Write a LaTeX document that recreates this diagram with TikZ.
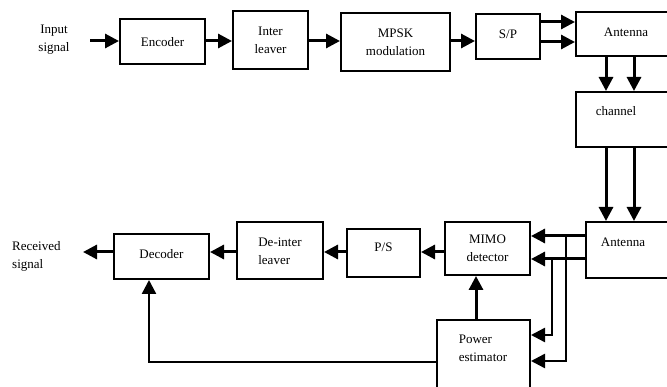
\documentclass[tikz,border=0pt]{standalone}
\usepackage{fontspec}
\setmainfont{Liberation Serif}
\usetikzlibrary{arrows.meta,calc}
\begin{document}
\begin{tikzpicture}[x=1pt,y=-1pt,
  box/.style={draw,line width=2pt,rectangle,inner sep=0pt,align=center,font=\fontsize{13}{18}\selectfont},
  txt/.style={inner sep=0pt,align=center,font=\fontsize{13}{18}\selectfont},
  arr/.style={line width=3pt,-{Triangle[length=14pt,width=14pt]}},
  lnarr/.style={line width=2.4pt,-{Triangle[length=14pt,width=14pt]}}]
\clip (0,0) rectangle (667,387);
\useasboundingbox (0,0) rectangle (667,387);
% top row
\node[txt] (inp) at (54,40) {Input\\signal};
\coordinate (instart) at (90,41);
\node[box,minimum width=85pt,minimum height=45pt] (enc) at (162.5,42) {Encoder};
\node[box,minimum width=75pt,minimum height=58pt] (il) at (270.5,40) {Inter\\leaver};
\node[box,minimum width=109pt,minimum height=58pt] (mpsk) at (395.5,42) {MPSK\\modulation};
\node[box,minimum width=64pt,minimum height=45pt] (sp) at (508,36.5) {};
\node[txt] at (508,34) {S/P};
\node[box,minimum width=100pt,minimum height=44pt] (ant1) at (626,34) {};
\node[txt] at (626,32) {Antenna};
\node[box,minimum width=100pt,minimum height=55pt] (ch) at (626,119.5) {};
\node[txt] at (616,111) {channel};
\node[box,minimum width=100pt,minimum height=56pt] (ant2) at (636,250) {};
\node[txt] at (623,242) {Antenna};
% bottom row
\node[box,minimum width=85pt,minimum height=53pt] (mimo) at (487.5,248.5) {MIMO\\detector};
\node[box,minimum width=73pt,minimum height=48pt] (ps) at (383.5,253) {};
\node[txt] at (383.5,247) {P/S};
\node[box,minimum width=86pt,minimum height=57pt] (deint) at (280,250.5) {};
\node[txt,align=left] at (280,251) {De-inter\\leaver};
\node[box,minimum width=95pt,minimum height=45pt] (dec) at (161.5,256.5) {};
\node[txt] at (161.5,254) {Decoder};
\node[txt,align=left,anchor=west] (rec) at (12,256) {Received\\signal};
\coordinate (outend) at (83,252);
\node[box,minimum width=93pt,minimum height=80pt] (pw) at (483.5,360) {};
\node[txt,align=left] at (483,348) {Power\\estimator};
% top arrows
\draw[arr] (instart) -- (instart -| enc.west);
\draw[arr] (instart -| enc.east) -- (instart -| il.west);
\draw[arr] (instart -| il.east) -- (instart -| mpsk.west);
\draw[arr] (instart -| mpsk.east) -- (instart -| sp.west);
\draw[arr] ($(sp.east)+(0,-14.5)$) -- ($(sp.east -| ant1.west)+(0,-14.5)$);
\draw[arr] ($(sp.east)+(0,5.5)$) -- ($(sp.east -| ant1.west)+(0,5.5)$);
\draw[arr] ($(ant1.south)+(-20,0)$) -- ($(ch.north)+(-20,0)$);
\draw[arr] ($(ant1.south)+(8,0)$) -- ($(ch.north)+(8,0)$);
\draw[arr] ($(ch.south)+(-20,0)$) -- ($(ch.south |- ant2.north)+(-20,0)$);
\draw[arr] ($(ch.south)+(8,0)$) -- ($(ch.south |- ant2.north)+(8,0)$);
% antenna to MIMO
\coordinate (a1) at ($(ant2.west)+(0,-14)$);
\coordinate (a2) at ($(ant2.west)+(0,9)$);
\draw[arr] (a1) -- (a1 -| mimo.east);
\draw[arr] (a2) -- (a2 -| mimo.east);
\coordinate (b1) at (566,236);
\coordinate (b2) at (552,259);
\draw[lnarr] (b1) -- (566,361) -- (pw.east |- 0,361);
\draw[lnarr] (b2) -- (552,335) -- (pw.east |- 0,335);
% bottom arrows
\draw[arr] ($(pw.north)+(-7.5,0)$) -- ($(mimo.south)+(-11.5,0)$);
\draw[arr] ($(mimo.west)+(0,3.5)$) -- ($(mimo.west -| ps.east)+(0,3.5)$);
\draw[arr] ($(ps.west)+(0,-1)$) -- ($(ps.west -| deint.east)+(0,-1)$);
\draw[arr] ($(deint.west)+(0,1.5)$) -- ($(deint.west -| dec.east)+(0,1.5)$);
\draw[arr] ($(dec.west)+(0,-4.5)$) -- (outend);
\draw[lnarr] (pw.west |- 0,362) -- (149,362) -- (dec.south -| 149,0);
\end{tikzpicture}
\end{document}
